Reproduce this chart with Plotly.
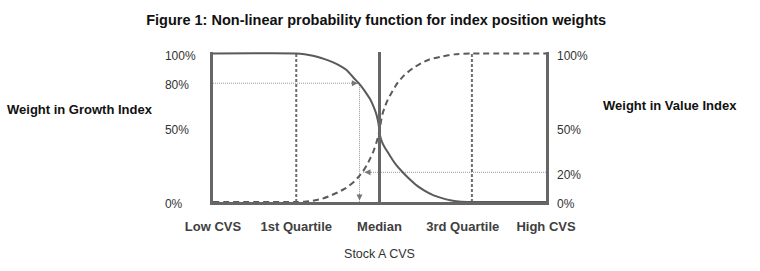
import plotly.graph_objects as go

# ---- data ----
x_tick_vals = [0, 1, 2, 3, 4]
x_tick_labels = ["Low CVS", "1st Quartile", "Median", "3rd Quartile", "High CVS"]

left_tick_vals = [0, 50, 80, 100]
left_tick_labels = ["0%", "50%", "80%", "100%"]
right_tick_vals = [0, 20, 50, 100]
right_tick_labels = ["0%", "20%", "50%", "100%"]

# Weight in Growth Index (solid curve)
growth_x = [0, 1.0, 1.1, 1.2, 1.3, 1.4, 1.5, 1.6, 1.7, 1.75, 1.8, 1.85, 1.89, 1.93,
            1.96, 1.98, 1.995, 2.0, 2.01, 2.03, 2.06, 2.10, 2.15, 2.2, 2.27, 2.35,
            2.45, 2.55, 2.65, 2.75, 2.85, 2.95, 3.11, 4]
growth_y = [100, 100, 99.5, 98.5, 97, 95, 92.5, 89, 83, 80, 76.5, 72.5, 69, 64,
            59.5, 55, 50, 47, 44, 40.5, 37, 33.5, 29, 25, 20.5, 16,
            11, 7.3, 4.5, 2.6, 1.2, 0.4, 0, 0]

# Weight in Value Index (dashed curve)
value_x = [0, 1.0, 1.1, 1.2, 1.3, 1.4, 1.5, 1.6, 1.7, 1.75, 1.8, 1.85, 1.89, 1.93,
           1.96, 1.98, 2.0, 2.01, 2.02, 2.04, 2.07, 2.10, 2.15, 2.22, 2.3, 2.4,
           2.5, 2.6, 2.75, 2.9, 3.11, 4]
value_y = [0, 0, 0.2, 0.8, 2, 4, 6.5, 9.5, 14, 17, 20.5, 25, 29.5, 34.5,
           39.5, 43.5, 48, 51, 55, 60, 65, 69, 74, 80.5, 85.5, 90,
           93.5, 96, 98, 99.4, 100, 100]

q1_x = 1.0
median_x = 2.0
q3_x = 3.11
high_x = 4.0
arrow_growth_x = 1.76   # where 80% growth meets the curve
arrow_value_x = 1.80    # where 20% value meets the curve
growth_level = 80
value_level = 20

FONT = "Arial, 'Liberation Sans', sans-serif"
AXIS_GREY = "#666666"
CURVE_GREY = "#5a5a5a"

fig = go.Figure()

# quartile markers (dotted verticals)
for qx in (q1_x, q3_x):
    fig.add_trace(go.Scatter(x=[qx, qx], y=[0, 100], mode="lines",
                             line=dict(color="#6e6e6e", width=2, dash="3px,2px"),
                             hoverinfo="skip"))

# arrow guide lines
fig.add_trace(go.Scatter(x=[0, arrow_growth_x], y=[growth_level, growth_level], mode="lines",
                         line=dict(color="#999999", width=1, dash="1px,1px"), hoverinfo="skip"))
fig.add_trace(go.Scatter(x=[arrow_growth_x, arrow_growth_x], y=[growth_level, 0], mode="lines",
                         line=dict(color="#999999", width=1, dash="1px,1px"), hoverinfo="skip"))
fig.add_trace(go.Scatter(x=[high_x, arrow_value_x], y=[value_level, value_level], mode="lines",
                         line=dict(color="#999999", width=1, dash="1px,1px"), hoverinfo="skip"))

# curves
fig.add_trace(go.Scatter(x=growth_x, y=growth_y, mode="lines", line_shape="spline",
                         line=dict(color=CURVE_GREY, width=2, smoothing=0.5), name="Growth"))
fig.add_trace(go.Scatter(x=value_x, y=value_y, mode="lines", line_shape="spline",
                         line=dict(color=CURVE_GREY, width=2, dash="6px,4px", smoothing=0.5),
                         name="Value"))

# median line
fig.add_trace(go.Scatter(x=[median_x, median_x], y=[0, 101], mode="lines",
                         line=dict(color=AXIS_GREY, width=3), hoverinfo="skip"))

# right-hand axis (labels only)
fig.add_trace(go.Scatter(x=[0], y=[0], yaxis="y2", mode="markers",
                         marker=dict(opacity=0), hoverinfo="skip"))

# arrowheads
arrow_common = dict(text="", showarrow=True, arrowhead=2, arrowsize=1.2,
                    arrowwidth=1, arrowcolor="#777777", xref="x", yref="y")
fig.add_annotation(x=arrow_growth_x - 0.02, y=growth_level, ax=-8, ay=0, **arrow_common)
fig.add_annotation(x=arrow_growth_x, y=1, ax=0, ay=-8, **arrow_common)
fig.add_annotation(x=arrow_value_x + 0.02, y=value_level, ax=8, ay=0, **arrow_common)

nb = "\u00a0"
def pad(lbls):
    w = {"0%": 4, "20%": 2, "50%": 2, "80%": 2, "100%": 0}
    return [l + nb * w[l] for l in lbls]

fig.update_layout(
    width=760, height=271,
    margin=dict(l=213, r=214, t=52, b=67),
    paper_bgcolor="white", plot_bgcolor="white",
    showlegend=False,
    font=dict(family=FONT, size=12, color="#333333"),
    title=dict(text="<b>Figure 1: Non-linear probability function for index position weights</b>",
               x=0.495, xanchor="center", y=0.928, yanchor="middle",
               xref="container", yref="container",
               font=dict(family=FONT, size=14.5, color="#111111")),
    xaxis=dict(range=[0, 4], tickvals=x_tick_vals, ticktext=x_tick_labels,
               showgrid=False, zeroline=False, showline=True, linewidth=3,
               linecolor=AXIS_GREY, ticks="", ticklabelstandoff=10,
               tickfont=dict(family=FONT, size=13, color="#404040", weight="bold"),
               title=dict(text="Stock A CVS", standoff=17,
                          font=dict(family=FONT, size=12.5, color="#333333"))),
    yaxis=dict(range=[0, 101], tickvals=left_tick_vals, ticktext=pad(left_tick_labels),
               showgrid=False, zeroline=False, showline=True, linewidth=3,
               linecolor=AXIS_GREY, mirror=True, ticks="",
               ticklabelstandoff=12, ticklabelshift=2,
               tickfont=dict(family=FONT, size=12, color="#333333")),
    yaxis2=dict(range=[0, 101], overlaying="y", side="right",
                tickvals=right_tick_vals, ticktext=right_tick_labels,
                showgrid=False, zeroline=False, showline=False, ticks="",
                ticklabelstandoff=10, ticklabelshift=2,
                tickfont=dict(family=FONT, size=12, color="#333333")),
)

fig.add_annotation(text="<b>Weight in Growth Index</b>", xref="paper", yref="paper",
                   x=(80 - 213) / 333, y=(204 - 110) / 152, showarrow=False,
                   xanchor="center", yanchor="middle",
                   font=dict(family=FONT, size=13, color="#111111"))
fig.add_annotation(text="<b>Weight in Value Index</b>", xref="paper", yref="paper",
                   x=(669.5 - 213) / 333, y=(204 - 106) / 152, showarrow=False,
                   xanchor="center", yanchor="middle",
                   font=dict(family=FONT, size=13, color="#111111"))

fig.write_html("out.html")
